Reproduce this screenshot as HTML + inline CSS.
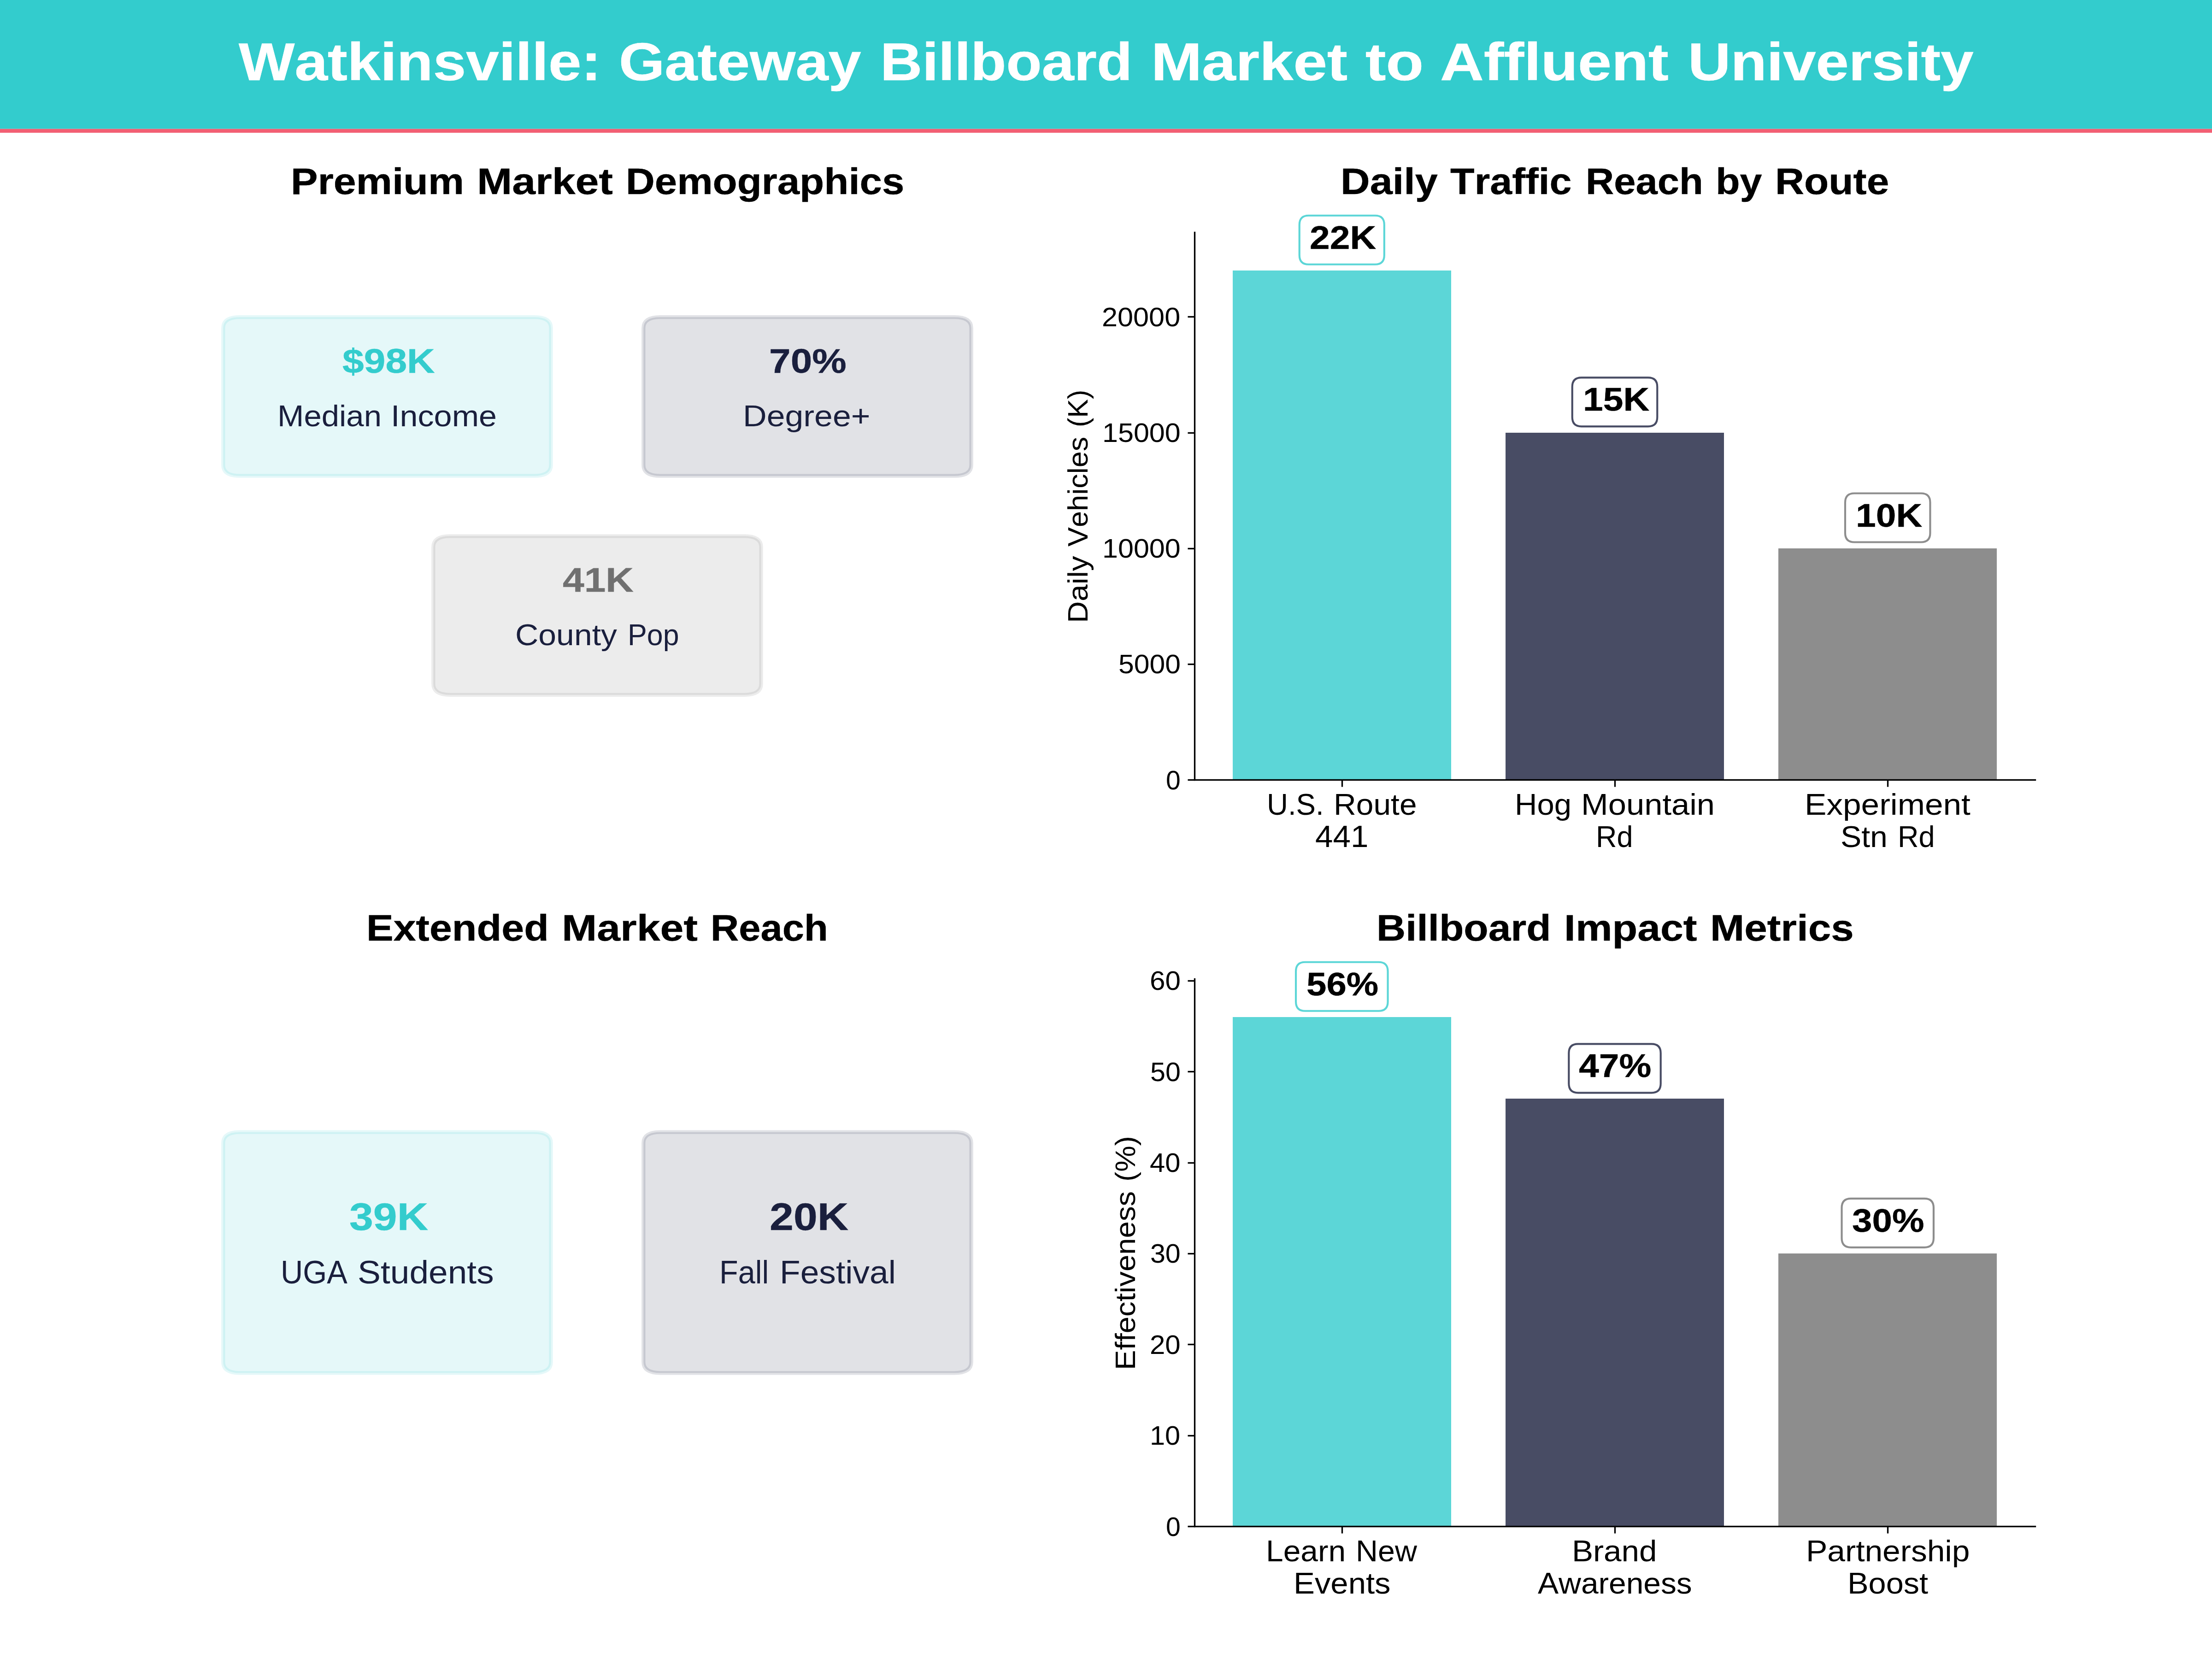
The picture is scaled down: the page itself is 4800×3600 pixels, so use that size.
<!DOCTYPE html>
<html lang="en"><head><meta charset="utf-8"><title>Watkinsville: Gateway Billboard Market to Affluent University</title>
<style>
html,body{margin:0;padding:0;background:#fff}
#page{position:relative;width:4800px;height:3600px;overflow:hidden;background:#fff;font-family:"Liberation Sans",sans-serif}
#page svg{position:absolute;left:0;top:0}
.t{position:absolute;white-space:nowrap;transform-origin:0 0;font-kerning:none;color:#000;margin:0;padding:0;-webkit-text-stroke:0}
.t span{position:absolute;top:0;transform-origin:0 0;display:block}
.b{font-weight:bold;-webkit-text-stroke:0.006em currentColor}
</style></head><body>
<div id="page">
<svg width="4800" height="3600" viewBox="0 0 4800 3600">
<rect x="0" y="0" width="4800" height="279.7" fill="#33cccd"/>
<rect x="0" y="279.7" width="4800" height="8.4" fill="#f25f73"/>
<path d="M520.8 1032.66L1159.2 1032.66Q1195.68 1032.66 1195.68 1008.9L1195.68 711.9Q1195.68 688.14 1159.2 688.14L520.8 688.14Q484.32 688.14 484.32 711.9L484.32 1008.9Q484.32 1032.66 520.8 1032.66Z" fill="#33cccd" fill-opacity="0.13" stroke="#33cccd" stroke-opacity="0.13" stroke-width="8.33"/>
<path d="M1432.8 1032.66L2071.2 1032.66Q2107.68 1032.66 2107.68 1008.9L2107.68 711.9Q2107.68 688.14 2071.2 688.14L1432.8 688.14Q1396.32 688.14 1396.32 711.9L1396.32 1008.9Q1396.32 1032.66 1432.8 1032.66Z" fill="#1a1f3d" fill-opacity="0.13" stroke="#1a1f3d" stroke-opacity="0.13" stroke-width="8.33"/>
<path d="M976.8 1507.86L1615.2 1507.86Q1651.68 1507.86 1651.68 1484.1L1651.68 1187.1Q1651.68 1163.34 1615.2 1163.34L976.8 1163.34Q940.32 1163.34 940.32 1187.1L940.32 1484.1Q940.32 1507.86 976.8 1507.86Z" fill="#707070" fill-opacity="0.13" stroke="#707070" stroke-opacity="0.13" stroke-width="8.33"/>
<path d="M520.8 2979.36L1159.2 2979.36Q1195.68 2979.36 1195.68 2955.6L1195.68 2480.4Q1195.68 2456.64 1159.2 2456.64L520.8 2456.64Q484.32 2456.64 484.32 2480.4L484.32 2955.6Q484.32 2979.36 520.8 2979.36Z" fill="#33cccd" fill-opacity="0.13" stroke="#33cccd" stroke-opacity="0.13" stroke-width="8.33"/>
<path d="M1432.8 2979.36L2071.2 2979.36Q2107.68 2979.36 2107.68 2955.6L2107.68 2480.4Q2107.68 2456.64 2071.2 2456.64L1432.8 2456.64Q1396.32 2456.64 1396.32 2480.4L1396.32 2955.6Q1396.32 2979.36 1432.8 2979.36Z" fill="#1a1f3d" fill-opacity="0.13" stroke="#1a1f3d" stroke-opacity="0.13" stroke-width="8.33"/>
<rect x="2675" y="587" width="474" height="1105" fill="#33cccd" fill-opacity="0.8"/>
<rect x="3267" y="939" width="474" height="753" fill="#1a1f3d" fill-opacity="0.8"/>
<rect x="3859" y="1190" width="474" height="502" fill="#707070" fill-opacity="0.8"/>
<rect x="2675" y="2207" width="474" height="1105" fill="#33cccd" fill-opacity="0.8"/>
<rect x="3267" y="2384" width="474" height="928" fill="#1a1f3d" fill-opacity="0.8"/>
<rect x="3859" y="2720" width="474" height="592" fill="#707070" fill-opacity="0.8"/>
<rect x="2590.83" y="502.83" width="3.33" height="1191.33"/>
<rect x="2590.83" y="1690.83" width="1827.33" height="3.33"/>
<rect x="2910.83" y="1692" width="3.33" height="15.5"/>
<rect x="3502.83" y="1692" width="3.33" height="15.5"/>
<rect x="4094.83" y="1692" width="3.33" height="15.5"/>
<rect x="2577.5" y="1690.83" width="14.5" height="3.33"/>
<rect x="2577.5" y="1439.83" width="14.5" height="3.33"/>
<rect x="2577.5" y="1188.83" width="14.5" height="3.33"/>
<rect x="2577.5" y="937.83" width="14.5" height="3.33"/>
<rect x="2577.5" y="685.83" width="14.5" height="3.33"/>
<rect x="2590.83" y="2122.83" width="3.33" height="1191.33"/>
<rect x="2590.83" y="3310.83" width="1827.33" height="3.33"/>
<rect x="2910.83" y="3312" width="3.33" height="15.5"/>
<rect x="3502.83" y="3312" width="3.33" height="15.5"/>
<rect x="4094.83" y="3312" width="3.33" height="15.5"/>
<rect x="2577.5" y="3310.83" width="14.5" height="3.33"/>
<rect x="2577.5" y="3113.83" width="14.5" height="3.33"/>
<rect x="2577.5" y="2915.83" width="14.5" height="3.33"/>
<rect x="2577.5" y="2718.83" width="14.5" height="3.33"/>
<rect x="2577.5" y="2521.83" width="14.5" height="3.33"/>
<rect x="2577.5" y="2323.83" width="14.5" height="3.33"/>
<rect x="2577.5" y="2126.83" width="14.5" height="3.33"/>
<path d="M2839.73 573.73L2983.85 573.73Q3003.85 573.73 3003.85 553.73L3003.85 487.73Q3003.85 467.73 2983.85 467.73L2839.73 467.73Q2819.73 467.73 2819.73 487.73L2819.73 553.73Q2819.73 573.73 2839.73 573.73Z" fill="#fff" fill-opacity="0.8" stroke="#33cccd" stroke-opacity="0.8" stroke-width="4.17"/>
<path d="M3431.75 925.36L3576.25 925.36Q3596.25 925.36 3596.25 905.36L3596.25 839.36Q3596.25 819.36 3576.25 819.36L3431.75 819.36Q3411.75 819.36 3411.75 839.36L3411.75 905.36Q3411.75 925.36 3431.75 925.36Z" fill="#fff" fill-opacity="0.8" stroke="#1a1f3d" stroke-opacity="0.8" stroke-width="4.17"/>
<path d="M4023.96 1176.52L4168.46 1176.52Q4188.46 1176.52 4188.46 1156.52L4188.46 1090.52Q4188.46 1070.52 4168.46 1070.52L4023.96 1070.52Q4003.96 1070.52 4003.96 1090.52L4003.96 1156.52Q4003.96 1176.52 4023.96 1176.52Z" fill="#fff" fill-opacity="0.8" stroke="#707070" stroke-opacity="0.8" stroke-width="4.17"/>
<path d="M2832.04 2193.73L2991.54 2193.73Q3011.54 2193.73 3011.54 2173.73L3011.54 2107.73Q3011.54 2087.73 2991.54 2087.73L2832.04 2087.73Q2812.04 2087.73 2812.04 2107.73L2812.04 2173.73Q2812.04 2193.73 2832.04 2193.73Z" fill="#fff" fill-opacity="0.8" stroke="#33cccd" stroke-opacity="0.8" stroke-width="4.17"/>
<path d="M3424.31 2371.34L3583.69 2371.34Q3603.69 2371.34 3603.69 2351.34L3603.69 2285.34Q3603.69 2265.34 3583.69 2265.34L3424.31 2265.34Q3404.31 2265.34 3404.31 2285.34L3404.31 2351.34Q3404.31 2371.34 3424.31 2371.34Z" fill="#fff" fill-opacity="0.8" stroke="#1a1f3d" stroke-opacity="0.8" stroke-width="4.17"/>
<path d="M4016.52 2706.82L4175.9 2706.82Q4195.9 2706.82 4195.9 2686.82L4195.9 2620.82Q4195.9 2600.82 4175.9 2600.82L4016.52 2600.82Q3996.52 2600.82 3996.52 2620.82L3996.52 2686.82Q3996.52 2706.82 4016.52 2706.82Z" fill="#fff" fill-opacity="0.8" stroke="#707070" stroke-opacity="0.8" stroke-width="4.17"/>
</svg>
<header aria-label="Title">
<div class="t b" style="left:514.81px;top:70.3px;font-size:115px;line-height:128px;height:128px;color:#ffffff"><span style="left:3.49px;transform:scaleX(1.1187)">Watkinsville:</span> <span style="left:828.69px;transform:scaleX(1.1109)">Gateway</span> <span style="left:1395.68px;transform:scaleX(1.0976)">Billboard</span> <span style="left:1983.27px;transform:scaleX(1.1492)">Market</span> <span style="left:2448.61px;transform:scaleX(1.1625)">to</span> <span style="left:2610.06px;transform:scaleX(1.1416)">Affluent</span> <span style="left:3147.72px;transform:scaleX(1.1140)">University</span></div>
</header>
<section aria-label="Premium Market Demographics">
<div class="t b" style="left:629.5px;top:348.67px;font-size:79.5px;line-height:89px;height:89px"><span style="left:1.27px;transform:scaleX(1.1058)">Premium</span> <span style="left:405.38px;transform:scaleX(1.1509)">Market</span> <span style="left:728.6px;transform:scaleX(1.0944)">Demographics</span></div>
<div class="t b" style="left:738.56px;top:741.3px;font-size:75px;line-height:84px;height:84px;color:#33cccd"><span style="left:4.68px;transform:scaleX(1.1196)">$98K</span></div>
<div class="t b" style="left:1667.25px;top:741.3px;font-size:75px;line-height:84px;height:84px;color:#1a1f3d"><span style="left:1.39px;transform:scaleX(1.1182)">70%</span></div>
<div class="t" style="left:601.56px;top:865.6px;font-size:65.5px;line-height:73px;height:73px;color:#1a1f3d"><span style="left:0.48px;transform:scaleX(1.0521)">Median</span> <span style="left:246.85px;transform:scaleX(1.0713)">Income</span></div>
<div class="t" style="left:1612px;top:865.6px;font-size:65.5px;line-height:73px;height:73px;color:#1a1f3d"><span style="left:0.26px;transform:scaleX(1.0924)">Degree+</span></div>
<div class="t b" style="left:1219.19px;top:1216.3px;font-size:75px;line-height:84px;height:84px;color:#707070"><span style="left:2.17px;transform:scaleX(1.1190)">41K</span></div>
<div class="t" style="left:1118.25px;top:1341.3px;font-size:65.5px;line-height:73px;height:73px;color:#1a1f3d"><span style="left:-0.03px;transform:scaleX(1.0644)">County</span> <span style="left:243.45px;transform:scaleX(0.9573)">Pop</span></div>
</section>
<section aria-label="Daily Traffic Reach by Route">
<div class="t b" style="left:2907.81px;top:348.67px;font-size:79.5px;line-height:89px;height:89px"><span style="left:1.26px;transform:scaleX(1.1091)">Daily</span> <span style="left:238.94px;transform:scaleX(1.0846)">Traffic</span> <span style="left:532.79px;transform:scaleX(1.0676)">Reach</span> <span style="left:815.4px;transform:scaleX(1.0836)">by</span> <span style="left:944.52px;transform:scaleX(1.0974)">Route</span></div>
<div class="t b" style="left:2839.73px;top:475.73px;font-size:70.5px;line-height:79px;height:79px"><span style="left:2.78px;transform:scaleX(1.1146)">22K</span></div>
<div class="t" style="left:2390.46px;top:655.85px;font-size:57.5px;line-height:64px;height:64px"><span style="left:0.89px;transform:scaleX(1.0645)">20000</span></div>
<div class="t b" style="left:3431.75px;top:827.36px;font-size:70.5px;line-height:79px;height:79px"><span style="left:2.81px;transform:scaleX(1.1144)">15K</span></div>
<div class="t" style="left:2390.33px;top:907.01px;font-size:57.5px;line-height:64px;height:64px"><span style="left:1.3px;transform:scaleX(1.0619)">15000</span></div>
<div class="t b" style="left:4023.96px;top:1078.52px;font-size:70.5px;line-height:79px;height:79px"><span style="left:2.81px;transform:scaleX(1.1144)">10K</span></div>
<div class="t" style="left:2390.33px;top:1158.17px;font-size:57.5px;line-height:64px;height:64px"><span style="left:1.3px;transform:scaleX(1.0619)">10000</span></div>
<div class="t" style="left:2303.67px;top:1351.94px;font-size:61.5px;line-height:69px;height:69px;transform:rotate(-90deg)"><span style="left:0.35px;transform:scaleX(1.0654)">Daily</span> <span style="left:166.44px;transform:scaleX(1.0249)">Vehicles</span> <span style="left:425.25px;transform:scaleX(0.9918)">(K)</span></div>
<div class="t" style="left:2424.83px;top:1409.34px;font-size:57.5px;line-height:64px;height:64px"><span style="left:1.75px;transform:scaleX(1.0543)">5000</span></div>
<div class="t" style="left:2528.33px;top:1660.5px;font-size:57.5px;line-height:64px;height:64px"><span style="left:1.34px;transform:scaleX(0.9928)">0</span></div>
<div class="t" style="left:2748.6px;top:1709.17px;font-size:65.5px;line-height:73px;height:73px"><span style="left:0.52px;transform:scaleX(0.9710)">U.S.</span> <span style="left:145.6px;transform:scaleX(1.0327)">Route</span></div>
<div class="t" style="left:3286.25px;top:1709.17px;font-size:65.5px;line-height:73px;height:73px"><span style="left:0.64px;transform:scaleX(1.0228)">Hog</span> <span style="left:145.12px;transform:scaleX(1.0766)">Mountain</span></div>
<div class="t" style="left:3915.71px;top:1709.17px;font-size:65.5px;line-height:73px;height:73px"><span style="left:0.3px;transform:scaleX(1.0862)">Experiment</span></div>
<div class="t" style="left:2852.17px;top:1777.57px;font-size:66px;line-height:74px;height:74px"><span style="left:1.47px;transform:scaleX(1.0482)">441</span></div>
<div class="t" style="left:3462.5px;top:1778.57px;font-size:65.5px;line-height:73px;height:73px"><span style="left:0.97px;transform:scaleX(0.9615)">Rd</span></div>
<div class="t" style="left:3992.9px;top:1778.57px;font-size:65.5px;line-height:73px;height:73px"><span style="left:1.04px;transform:scaleX(1.0358)">Stn</span> <span style="left:124.62px;transform:scaleX(0.9615)">Rd</span></div>
</section>
<section aria-label="Extended Market Reach">
<div class="t b" style="left:793.94px;top:1968.67px;font-size:79.5px;line-height:89px;height:89px"><span style="left:1.27px;transform:scaleX(1.1065)">Extended</span> <span style="left:425.12px;transform:scaleX(1.1509)">Market</span> <span style="left:748.48px;transform:scaleX(1.0676)">Reach</span></div>
<div class="t b" style="left:754.38px;top:2592.6px;font-size:84px;line-height:94px;height:94px;color:#33cccd"><span style="left:3.43px;transform:scaleX(1.1100)">39K</span></div>
<div class="t b" style="left:1666.38px;top:2592.6px;font-size:84px;line-height:94px;height:94px;color:#1a1f3d"><span style="left:3.3px;transform:scaleX(1.1108)">20K</span></div>
<div class="t" style="left:608.06px;top:2722px;font-size:70px;line-height:78px;height:78px;color:#1a1f3d"><span style="left:0.63px;transform:scaleX(0.9559)">UGA</span> <span style="left:168.14px;transform:scaleX(1.0699)">Students</span></div>
<div class="t" style="left:1559.75px;top:2722px;font-size:70px;line-height:78px;height:78px;color:#1a1f3d"><span style="left:1.08px;transform:scaleX(0.9511)">Fall</span> <span style="left:131.77px;transform:scaleX(1.0450)">Festival</span></div>
</section>
<section aria-label="Billboard Impact Metrics">
<div class="t b" style="left:2985.75px;top:1968.67px;font-size:79.5px;line-height:89px;height:89px"><span style="left:1.31px;transform:scaleX(1.0992)">Billboard</span> <span style="left:408.07px;transform:scaleX(1.1262)">Impact</span> <span style="left:724.87px;transform:scaleX(1.1200)">Metrics</span></div>
<div class="t" style="left:2493.96px;top:2096.45px;font-size:57.5px;line-height:64px;height:64px"><span style="left:0.73px;transform:scaleX(1.0466)">60</span></div>
<div class="t b" style="left:2832.04px;top:2095.73px;font-size:70.5px;line-height:79px;height:79px"><span style="left:2.98px;transform:scaleX(1.1076)">56%</span></div>
<div class="t" style="left:2493.83px;top:2293.79px;font-size:57.5px;line-height:64px;height:64px"><span style="left:1.81px;transform:scaleX(1.0291)">50</span></div>
<div class="t b" style="left:3424.31px;top:2273.34px;font-size:70.5px;line-height:79px;height:79px"><span style="left:2.05px;transform:scaleX(1.1143)">47%</span></div>
<div class="t" style="left:2493.83px;top:2491.13px;font-size:57.5px;line-height:64px;height:64px"><span style="left:1.28px;transform:scaleX(1.0377)">40</span></div>
<div class="t b" style="left:4016.52px;top:2608.82px;font-size:70.5px;line-height:79px;height:79px"><span style="left:2.9px;transform:scaleX(1.1082)">30%</span></div>
<div class="t" style="left:2493.83px;top:2688.47px;font-size:57.5px;line-height:64px;height:64px"><span style="left:1.88px;transform:scaleX(1.0280)">30</span></div>
<div class="t" style="left:2493.96px;top:2885.82px;font-size:57.5px;line-height:64px;height:64px"><span style="left:0.95px;transform:scaleX(1.0430)">20</span></div>
<div class="t" style="left:2407.17px;top:2972.56px;font-size:61.5px;line-height:69px;height:69px;transform:rotate(-90deg)"><span style="left:0.37px;transform:scaleX(1.0612)">Effectiveness</span> <span style="left:408.93px;transform:scaleX(1.0328)">(%)</span></div>
<div class="t" style="left:2493.83px;top:3083.16px;font-size:57.5px;line-height:64px;height:64px"><span style="left:1.41px;transform:scaleX(1.0355)">10</span></div>
<div class="t" style="left:2528.33px;top:3280.5px;font-size:57.5px;line-height:64px;height:64px"><span style="left:1.34px;transform:scaleX(0.9928)">0</span></div>
<div class="t" style="left:2746.42px;top:3329.17px;font-size:65.5px;line-height:73px;height:73px"><span style="left:0.58px;transform:scaleX(1.0339)">Learn</span> <span style="left:195.18px;transform:scaleX(1.0138)">New</span></div>
<div class="t" style="left:3411px;top:3329.17px;font-size:65.5px;line-height:73px;height:73px"><span style="left:0.46px;transform:scaleX(1.0553)">Brand</span></div>
<div class="t" style="left:3918.15px;top:3329.17px;font-size:65.5px;line-height:73px;height:73px"><span style="left:0.43px;transform:scaleX(1.0611)">Partnership</span></div>
<div class="t" style="left:2806.04px;top:3398.57px;font-size:65.5px;line-height:73px;height:73px"><span style="left:0.48px;transform:scaleX(1.0515)">Events</span></div>
<div class="t" style="left:3336.25px;top:3398.57px;font-size:65.5px;line-height:73px;height:73px"><span style="left:0.36px;transform:scaleX(1.0328)">Awareness</span></div>
<div class="t" style="left:4008.02px;top:3398.57px;font-size:65.5px;line-height:73px;height:73px"><span style="left:0.52px;transform:scaleX(1.0442)">Boost</span></div>
</section>
</div>
</body></html>
